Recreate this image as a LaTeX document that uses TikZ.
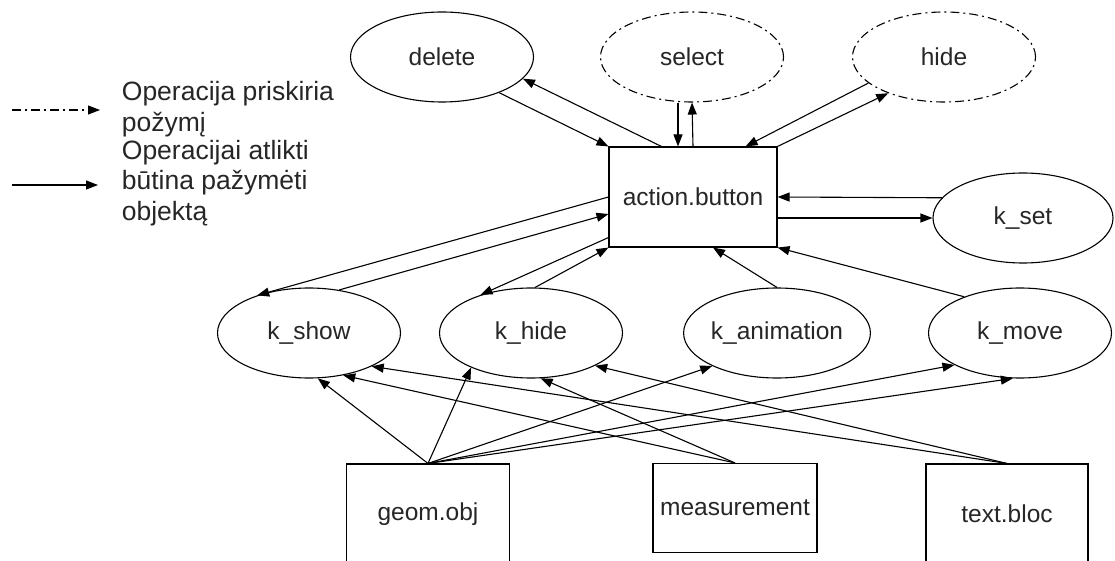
\documentclass[tikz,border=0pt]{standalone}
\usepackage{fontspec}
\setmainfont{Liberation Sans}
\usetikzlibrary{shapes.geometric,arrows.meta}

\begin{document}
\begin{tikzpicture}[x=1pt,y=1pt,line width=1.1pt,
	>={Triangle[length=12pt,width=9pt]},
	every node/.style={font=\fontsize{24.5}{29}\selectfont,text=black!85},
	op/.style={ellipse,draw,minimum width=183pt,minimum height=90pt,inner sep=0pt},
	attr/.style={dash pattern=on 9pt off 4pt on 2pt off 4pt},
	obj/.style={draw,minimum width=163pt,inner sep=0pt},
	legend/.style={anchor=west,align=left,font=\fontsize{26.5}{30.5}\selectfont}]
	\useasboundingbox (0,0) rectangle (1115,560);
	% legend
	\coordinate (a1) at (12,450);
	\coordinate (b1) at (100,450);
	\coordinate (a2) at (12,375);
	\coordinate (b2) at (98,375);
	\draw[->,attr] (a1) -- (b1);
	\draw[->] (a2) -- (b2);
	\node[legend] (leg1) at (118,451) {Operacija priskiria\\požymį};
	\node[legend] (leg2) at (118,377) {Operacijai atlikti\\būtina pažymėti\\objektą};
	%
	\node[op] (delete) at (442,503) {delete};
	\node[op,attr] (select) at (692,503) {select};
	\node[op,attr] (hide) at (944,503) {hide};
	\node[draw,minimum width=168pt,minimum height=100pt] (action) at (693,363) {action.button};
	\node[op,minimum width=180pt] (kset) at (1023,342) {k\_set};
	\node[op] (kshow) at (309,227) {k\_show};
	\node[op] (khide) at (531,227) {k\_hide};
	\node[op] (kanim) at (777,227) {k\_animation};
	\node[op] (kmove) at (1020,227) {k\_move};
	\node[obj,minimum height=100pt] (geom) at (428,46) {geom.obj};
	\node[obj,minimum width=164pt,minimum height=89pt] (meas) at (735,52) {measurement};
	\node[obj,minimum width=162pt,minimum height=100pt] (tbloc) at (1007,46) {text.bloc};
	%
	\draw[->] ([xshift=53pt]action.north west) -- (delete.-15);
	\draw[->] (delete.-32) -- (action.north west);
	\draw[->] ([xshift=-14pt]select.south) -- ([xshift=-15pt]action.north);
	\draw[->] (action.north) -- (select.south);
	\draw[->] (hide.199) -- ([xshift=-32pt]action.north east);
	\draw[->] (action.north east) -- (hide.213);
	\draw[->] (kset.166) -- (action.east);
	\draw[->] ([yshift=-21pt]action.east) -- (kset.west);
	%
	\draw[->] (action.west) -- (kshow.144);
	\draw[->] (kshow.55) -- ([yshift=-17pt]action.west);
	\draw[->] ([yshift=10pt]action.south west) -- (khide.143);
	\draw[->] (khide.85) -- (action.south west);
	\draw[->] (kanim.north) -- ([xshift=20pt]action.south);
	\draw[->] (kmove.147) -- (action.south east);
	%
	\draw[->] (geom.north) -- (kshow.-79);
	\draw[->] (geom.north) -- (khide.210);
	\draw[->] (geom.north) -- (kanim.207);
	\draw[->] (geom.north) -- (kmove.206);
	\draw[->] (geom.north) -- (kmove.-99);
	\draw[->] (meas.north) -- (kshow.-51);
	\draw[->] (meas.north) -- (khide.-78);
	\draw[->] (tbloc.north) -- (kshow.-28);
	\draw[->] (tbloc.north) -- (khide.-27);
\end{tikzpicture}
\end{document}
